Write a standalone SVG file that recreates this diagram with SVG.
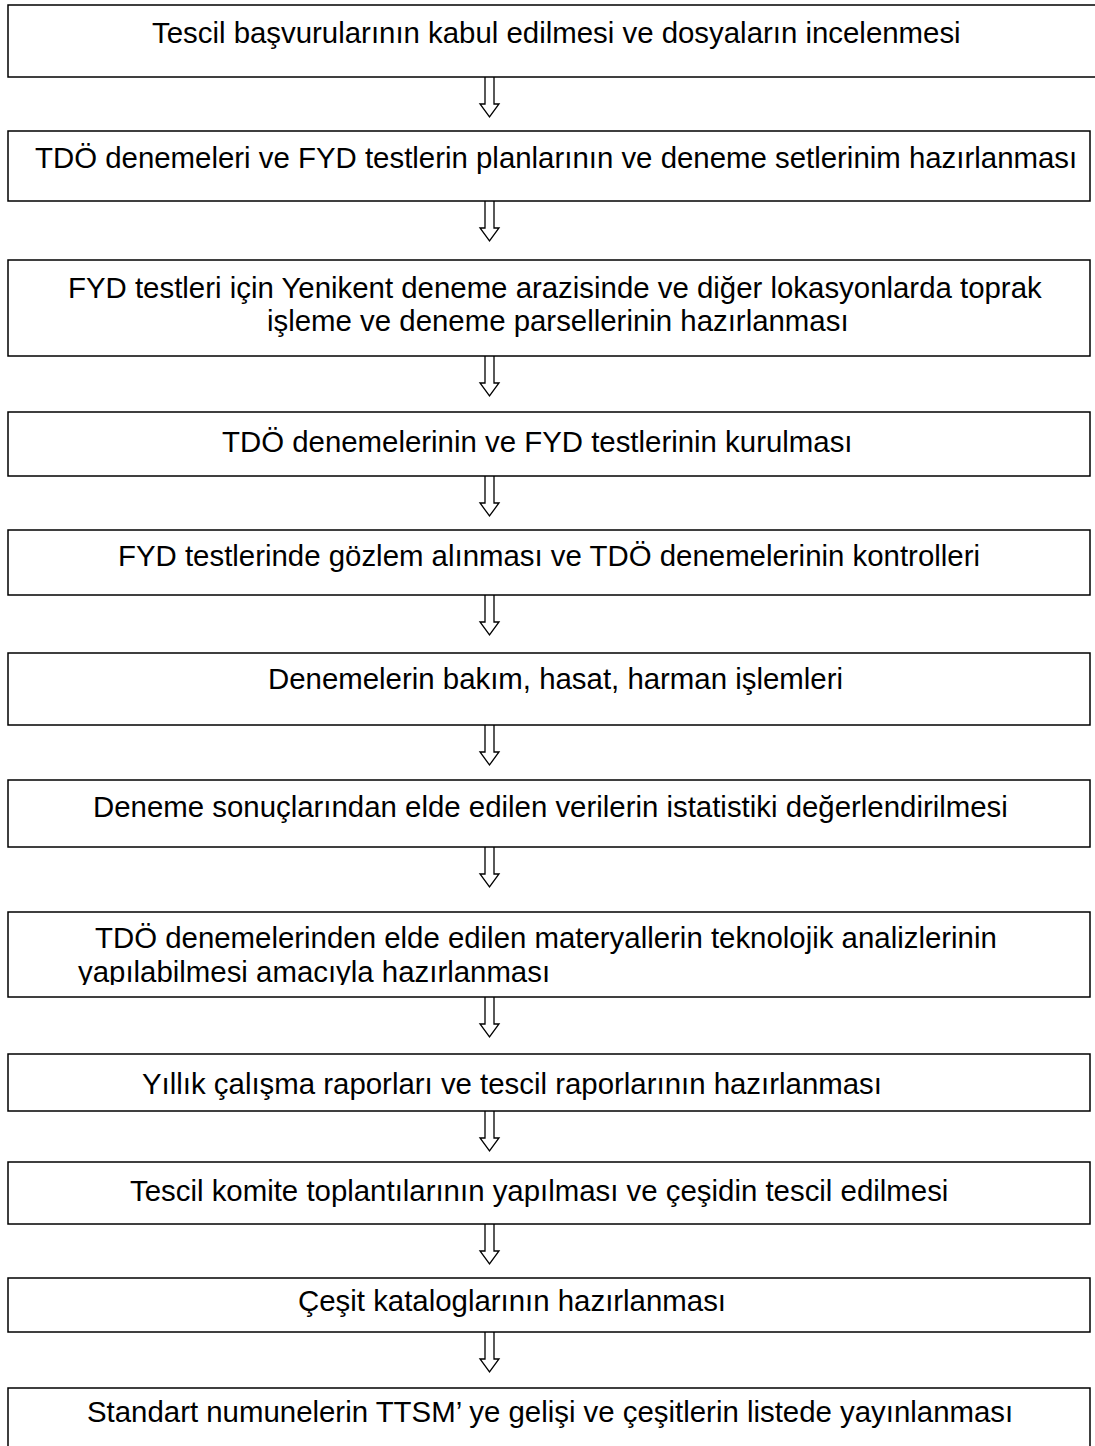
<svg xmlns="http://www.w3.org/2000/svg" width="1095" height="1446" viewBox="0 0 1095 1446">
<style>
.box{fill:#fff;stroke:#000;stroke-width:1.5}
.t{font-family:"Liberation Sans",Arial,sans-serif;font-size:29.4px;fill:#000}
.arr{fill:#fff;stroke:#000;stroke-width:1.3;stroke-linejoin:miter}
</style>
<defs>
<clipPath id="clip8"><rect x="0" y="900" width="1095" height="85"/></clipPath>
</defs>
<rect width="1095" height="1446" fill="#fff"/>
<g id="connectors">
<path class="arr" d="M485,77 V104 H480 L489.5,117 L499,104 H494 V77"/>
<path class="arr" d="M485,201 V228 H480 L489.5,241 L499,228 H494 V201"/>
<path class="arr" d="M485,356 V383 H480 L489.5,396 L499,383 H494 V356"/>
<path class="arr" d="M485,476 V503 H480 L489.5,516 L499,503 H494 V476"/>
<path class="arr" d="M485,595 V622 H480 L489.5,635 L499,622 H494 V595"/>
<path class="arr" d="M485,725 V752 H480 L489.5,765 L499,752 H494 V725"/>
<path class="arr" d="M485,847 V874 H480 L489.5,887 L499,874 H494 V847"/>
<path class="arr" d="M485,997 V1024 H480 L489.5,1037 L499,1024 H494 V997"/>
<path class="arr" d="M485,1111 V1138 H480 L489.5,1151 L499,1138 H494 V1111"/>
<path class="arr" d="M485,1224 V1251 H480 L489.5,1264 L499,1251 H494 V1224"/>
<path class="arr" d="M485,1332 V1359 H480 L489.5,1372 L499,1359 H494 V1332"/>
</g>
<g id="n1"><rect class="box" x="8" y="5" width="1090" height="72"/><text class="t" x="152" y="43">Tescil başvurularının kabul edilmesi ve dosyaların incelenmesi</text></g>
<g id="n2"><rect class="box" x="8" y="131" width="1082" height="70"/><text class="t" x="35" y="168">TDÖ denemeleri ve FYD testlerin planlarının ve deneme setlerinim hazırlanması</text></g>
<g id="n3"><rect class="box" x="8" y="260" width="1082" height="96"/><text class="t" x="68" y="298">FYD testleri için Yenikent deneme arazisinde ve diğer lokasyonlarda toprak</text><text class="t" x="267" y="331">işleme ve deneme parsellerinin hazırlanması</text></g>
<g id="n4"><rect class="box" x="8" y="412" width="1082" height="64"/><text class="t" x="222" y="452">TDÖ denemelerinin ve FYD testlerinin kurulması</text></g>
<g id="n5"><rect class="box" x="8" y="530" width="1082" height="65"/><text class="t" x="118" y="566">FYD testlerinde gözlem alınması ve TDÖ denemelerinin kontrolleri</text></g>
<g id="n6"><rect class="box" x="8" y="653" width="1082" height="72"/><text class="t" x="268" y="689">Denemelerin bakım, hasat, harman işlemleri</text></g>
<g id="n7"><rect class="box" x="8" y="780" width="1082" height="67"/><text class="t" x="93" y="817">Deneme sonuçlarından elde edilen verilerin istatistiki değerlendirilmesi</text></g>
<g id="n8"><rect class="box" x="8" y="912" width="1082" height="85"/><g clip-path="url(#clip8)"><text class="t" x="95" y="948">TDÖ denemelerinden elde edilen materyallerin teknolojik analizlerinin</text><text class="t" x="78" y="982">yapılabilmesi amacıyla hazırlanması</text></g></g>
<g id="n9"><rect class="box" x="8" y="1054" width="1082" height="57"/><text class="t" x="142" y="1094">Yıllık çalışma raporları ve tescil raporlarının hazırlanması</text></g>
<g id="n10"><rect class="box" x="8" y="1162" width="1082" height="62"/><text class="t" x="130" y="1201">Tescil komite toplantılarının yapılması ve çeşidin tescil edilmesi</text></g>
<g id="n11"><rect class="box" x="8" y="1278" width="1082" height="54"/><text class="t" x="298" y="1311">Çeşit kataloglarının hazırlanması</text></g>
<g id="n12"><rect class="box" x="8" y="1388" width="1082" height="70"/><text class="t" x="87" y="1422">Standart numunelerin TTSM’ ye gelişi ve çeşitlerin listede yayınlanması</text></g>
</svg>
